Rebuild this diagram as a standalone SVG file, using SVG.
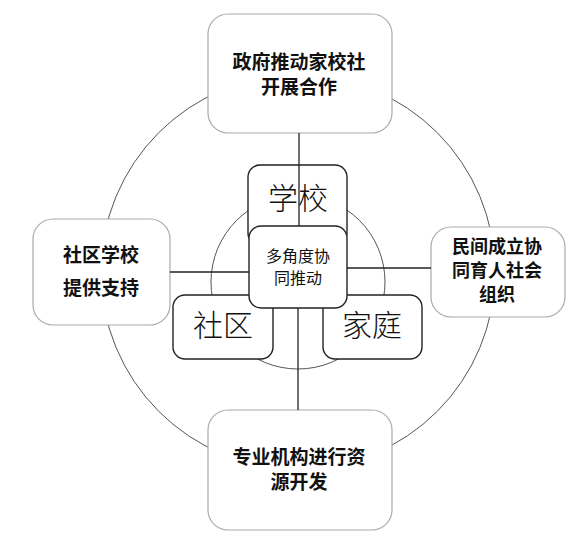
<svg xmlns="http://www.w3.org/2000/svg" width="588" height="546" viewBox="0 0 588 546">
<style>
.ring{fill:none;stroke:#555;stroke-width:1}
.outer{fill:#fff;stroke:#aaa;stroke-width:1.2}
.inner{fill:#fff;stroke:#222;stroke-width:1.4}
.edge{stroke:#222;stroke-width:1.3;fill:none}
text{font-family:"Noto Sans CJK SC","Noto Sans CJK JP",sans-serif;text-anchor:middle;fill:#111}
.ot{font-size:19px;font-weight:bold}
.ot2{font-size:18px;font-weight:bold}
.big{font-size:30px;font-weight:300}
.mid{font-size:16px}
</style>
<rect width="588" height="546" fill="#fff"/>
<g id="rings">
<circle class="ring" cx="298" cy="272" r="197"/>
<circle class="ring" cx="298" cy="282" r="87"/>
</g>
<g id="n-gov">
<rect class="outer" x="208" y="14" width="184" height="119" rx="20"/>
<text class="ot" x="299" y="69">政府推动家校社</text>
<text class="ot" x="299" y="94">开展合作</text>
</g>
<g id="n-comm">
<rect class="outer" x="33" y="219" width="137" height="106" rx="20"/>
<text class="ot" x="101" y="262">社区学校</text>
<text class="ot" x="101" y="295">提供支持</text>
</g>
<g id="n-civil">
<rect class="outer" x="431" y="227" width="134" height="90" rx="20"/>
<text class="ot2" x="497" y="253">民间成立协</text>
<text class="ot2" x="497" y="277">同育人社会</text>
<text class="ot2" x="497" y="301">组织</text>
</g>
<g id="n-pro">
<rect class="outer" x="208" y="410" width="184" height="120" rx="20"/>
<text class="ot" x="299" y="464">专业机构进行资</text>
<text class="ot" x="299" y="489">源开发</text>
</g>
<g id="n-school">
<rect class="inner" x="248" y="165" width="99" height="80" rx="12"/>
<text class="big" x="298" y="209">学校</text>
</g>
<g id="n-shequ">
<rect class="inner" x="173" y="295" width="100" height="64" rx="12"/>
<text class="big" x="223" y="336">社区</text>
</g>
<g id="n-family">
<rect class="inner" x="323" y="295" width="99" height="64" rx="12"/>
<text class="big" x="372" y="336">家庭</text>
</g>
<g id="connectors">
<line class="edge" x1="299" y1="133" x2="299" y2="226"/>
<line class="edge" x1="170" y1="272" x2="250" y2="272"/>
<line class="edge" x1="347" y1="268" x2="431" y2="268"/>
<line class="edge" x1="298" y1="308" x2="298" y2="410"/>
</g>
<g id="n-center">
<rect class="inner" x="249" y="226" width="98" height="82" rx="12"/>
<text class="mid" x="298" y="262">多角度协</text>
<text class="mid" x="298" y="284">同推动</text>
</g>
</svg>
